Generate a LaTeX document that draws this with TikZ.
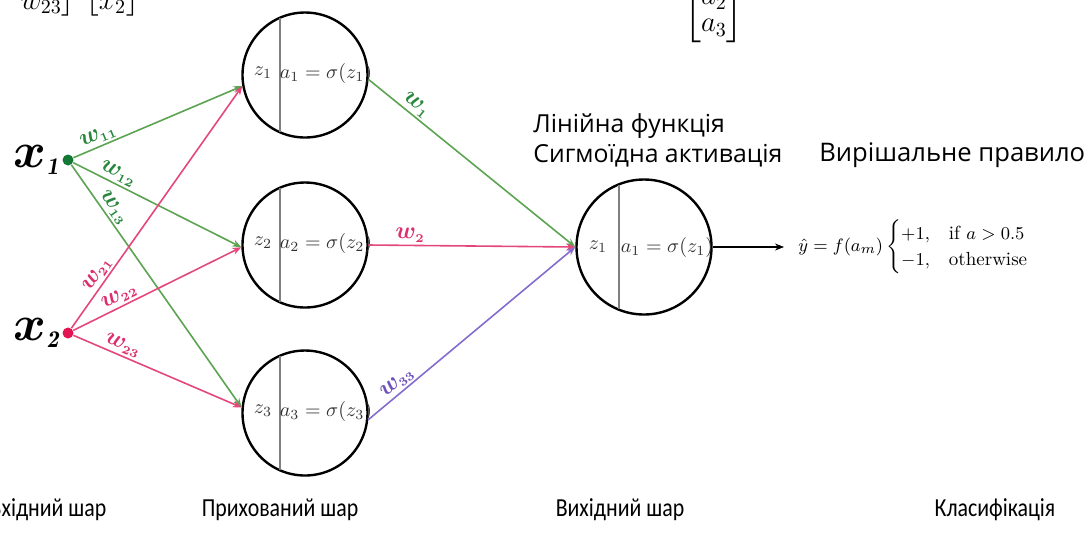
\documentclass[tikz,border=0pt]{standalone}
\usepackage{amsmath}
\usepackage{fontspec}
\newfontfamily\labelfont{Open Sans}
\newfontfamily\layerfont[FakeStretch=0.84]{Carlito}
\usetikzlibrary{calc,arrows.meta}
\definecolor{wgreen}{RGB}{92,163,82}
\definecolor{wpink}{RGB}{228,72,122}
\definecolor{wpurple}{RGB}{132,108,204}
\definecolor{lgreen}{RGB}{40,135,60}
\definecolor{lpink}{RGB}{218,48,110}
\definecolor{lpurple}{RGB}{110,80,190}
\definecolor{dotgreen}{RGB}{18,120,52}
\definecolor{dotpink}{RGB}{226,20,82}
\definecolor{neurontext}{RGB}{50,50,50}
\newcommand{\wsub}[1]{w_{\scriptscriptstyle #1}}

\begin{document}
\begin{tikzpicture}[x=0.5pt, y=-0.5pt, >={Stealth[length=4.5pt,width=3.5pt]},
		neuron/.style={draw, circle, line width=1.2pt, minimum size=62.5pt, inner sep=0pt},
		inp/.style={circle, inner sep=0pt, minimum size=5.5pt},
		inlabel/.style={inner sep=0pt, anchor=east, font=\fontsize{24}{28}\selectfont\boldmath},
		wedge/.style={line width=0.8pt, ->},
		wlabel/.style={font=\fontsize{12}{14}\selectfont\boldmath, sloped, above, inner sep=1pt},
		chord/.style={draw=gray, line width=0.9pt},
		vec/.style={inner sep=0pt, font=\fontsize{14.5}{13.5}\selectfont},
		layer/.style={font=\layerfont\fontsize{13}{15}\selectfont}]
	\useasboundingbox (0,0) rectangle (1087,532);
	\clip (0,0) rectangle (1087,532);

	% vectors cut by the top edge
	\node[vec, anchor=south east] (wmat) at (76,18) {$\begin{bmatrix} \\ \hphantom{w_{22}\;\;} w_{23}\end{bmatrix}$};
	\node[vec, anchor=south east] (xvec) at (140,18) {$\begin{bmatrix} \\ x_2\end{bmatrix}$};
	\node[vec, anchor=south] (avec) at (714,43) {$\begin{bmatrix} \\ a_2 \\ a_3\end{bmatrix}$};

	% inputs
	\node[inp, fill=dotgreen] (x1) at (68,160) {};
	\node[inp, fill=dotpink] (x2) at (68,333) {};
	\node[inlabel] (x1lab) at (60,160) {$x_{\scriptscriptstyle\mathit{1}}$};
	\node[inlabel] (x2lab) at (60,333) {$x_{\scriptscriptstyle\mathit{2}}$};

	% hidden layer
	\foreach \i/\y in {1/75,2/245,3/413} {
		\node[neuron] (h\i) at (305,\y) {};
		\draw[chord] ($(h\i)+(-25,-57)$) -- ($(h\i)+(-25,57)$);
		\node[text=neurontext] at ($(h\i)+(-42,-2)$) {$z_\i$};
		\node[text=neurontext] at ($(h\i)+(21,-2)$) {$a_\i = \sigma(z_\i)$};
	}

	% output neuron
	\node[neuron, minimum size=67.5pt] (out) at (644,247) {};
	\draw[chord] ($(out)+(-25,-62)$) -- ($(out)+(-25,62)$);
	\node[text=neurontext] at ($(out)+(-46,0)$) {$z_1$};
	\node[text=neurontext] at ($(out)+(23,0)$) {$a_1 = \sigma(z_1)$};

	% input -> hidden
	\draw[wedge, wgreen] (x1) -- node[wlabel, pos=0.17, text=lgreen] {$\wsub{11}$} (h1.190);
	\draw[wedge, wgreen] (x1) -- node[wlabel, pos=0.24, text=lgreen] {$\wsub{12}$} (h2.182);
	\draw[wedge, wgreen] (x1) -- node[wlabel, pos=0.2, text=lgreen] {$\wsub{13}$} (h3.175);
	\draw[wedge, wpink] (x2) -- node[wlabel, pos=0.2, text=lpink] {$\wsub{21}$} (h1.190);
	\draw[wedge, wpink] (x2) -- node[wlabel, pos=0.3, text=lpink] {$\wsub{22}$} (h2.182);
	\draw[wedge, wpink] (x2) -- node[wlabel, pos=0.27, text=lpink] {$\wsub{23}$} (h3.175);

	% hidden -> output
	\draw[wedge, wgreen] (h1.-4) -- node[wlabel, pos=0.2, text=lgreen] {$\wsub{1}$} (out.west);
	\draw[wedge, wpink] (h2.east) -- node[wlabel, pos=0.2, text=lpink] {$\wsub{2}$} (out.west);
	\draw[wedge, wpurple] (h3.-6) -- node[wlabel, pos=0.17, text=lpurple] {$\wsub{33}$} (out.west);

	% decision rule
	\node[anchor=west, inner sep=0pt, font=\fontsize{9.5}{11}\selectfont] (rule) at (798,247) {$\hat{y} = f(a_m) \begin{cases} +1, & \text{if } a > 0.5\\ -1, & \text{otherwise}\end{cases}$};
	\draw[->, line width=0.6pt, shorten >=7pt] (out.east) -- (rule.west);

	\node[anchor=west, align=left, inner sep=0pt, font=\labelfont\fontsize{12.4}{15}\selectfont] (act) at (533,140) {Лінійна функція\\Сигмоїдна активація};
	\node[anchor=west, inner sep=0pt, font=\labelfont\fontsize{12.8}{15}\selectfont] (dec) at (819,155) {Вирішальне правило};

	% layer names
	\node[layer] (l1) at (48,510) {Вхідний шар};
	\node[layer] (l2) at (280,510) {Прихований шар};
	\node[layer] (l3) at (620,510) {Вихідний шар};
	\node[layer] (l4) at (995,510) {Класифікація};
\end{tikzpicture}
\end{document}
